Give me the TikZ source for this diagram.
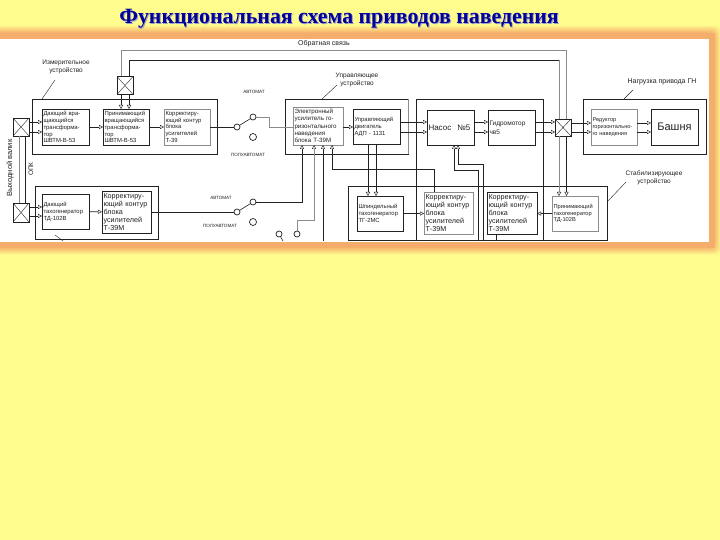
\documentclass[tikz,border=0pt]{standalone}
\usepackage{fontspec}
\setmainfont{Liberation Sans}
\newfontfamily\titlefont{Liberation Serif}
\usetikzlibrary{arrows.meta}
\definecolor{pageyellow}{HTML}{FFFC8E}
\definecolor{glow}{HTML}{F5AD6B}
\definecolor{titleblue}{HTML}{000099}
\definecolor{titleshadow}{HTML}{9C9CD0}
\definecolor{ink}{HTML}{222222}
\definecolor{softline}{HTML}{8C8C8C}
\newcommand{\fsz}[2]{\fontsize{#1}{#2}\selectfont}
\tikzset{
  x=1pt,y=-1pt,
  bx/.style 2 args={draw=ink,line width=.7pt,rectangle,inner xsep=1.5pt,inner ysep=0pt,outer sep=0pt,
    minimum width=#1pt,minimum height=#2pt,text width=#1pt-3pt,align=left,text=ink,font=\fsz{5.9}{6.9}},
  bigtxt/.style={font=\fsz{7.2}{8.2}},
  group/.style 2 args={draw=ink,line width=.7pt,rectangle,inner sep=0pt,outer sep=0pt,minimum width=#1pt,minimum height=#2pt},
  xbox/.style={draw=ink,line width=.7pt,rectangle,inner sep=0pt,outer sep=0pt,minimum width=16pt,minimum height=18pt,
    path picture={\draw[ink,line width=.4pt] (path picture bounding box.north west)--(path picture bounding box.south east)
      (path picture bounding box.north east)--(path picture bounding box.south west);}},
  contact/.style={draw=ink,line width=.7pt,circle,inner sep=0pt,outer sep=0pt,minimum size=6pt},
  lbl/.style={inner sep=0pt,outer sep=0pt,text=ink,font=\fsz{6.5}{8},align=center},
  wire/.style={ink,line width=.6pt},
  gwire/.style={softline,line width=1pt},
  arr/.style={wire,-{Triangle[open,length=4pt,width=4pt,line width=.4pt]}},
  garr/.style={gwire,-{Triangle[open,length=4pt,width=4pt,line width=.4pt,color=ink]}},
}
\begin{document}
\begin{tikzpicture}
\useasboundingbox (0,0) rectangle (720,540);
\fill[pageyellow] (0,0) rectangle (720,540);
\begin{scope}
\clip (0,0) rectangle (720,540);
\foreach \i in {0,...,7}{
  \pgfmathsetmacro{\d}{13-\i}
  \pgfmathsetmacro{\m}{(\i+1)*12.5}
  \fill[glow!\m!pageyellow,rounded corners=6pt] (-30,39-\d) rectangle (709+\d-1,241.5+\d);
}
\fill[glow] (-30,33) rectangle (715,247.5);
\fill[white] (0,39) rectangle (709,241.5);
\end{scope}
% title
\node[inner sep=0pt,text=titleshadow,font=\titlefont\bfseries\fsz{21.8}{24}] (titleb) at (340,20) {Функциональная схема приводов наведения};
\node[inner sep=0pt,text=titleblue,font=\titlefont\bfseries\fsz{21.8}{24}] (title) at (339,19) {Функциональная схема приводов наведения};

% groups
\node[group={185}{55}] (meas) at (124.5,126.5) {};
\node[group={123}{53}] (low) at (96.5,212.5) {};
\node[group={123}{55}] (ctl) at (346.5,126.5) {};
\node[group={123}{55}] (load) at (644.5,126.5) {};
\node[group={259}{54}] (stab) at (477.5,213) {};
\draw[softline,line width=.8pt] (ctl.north east) -- (ctl.south east);
\coordinate (pl) at (416,241);
\coordinate (pr) at (543,241);
\draw[wire,line width=.7pt] (pl) -- (416,99) -- (543,99) -- (pr);

% boxes
\node[bx={47}{36}] (a) at (65.5,127) {Дающий вра-\\щающийся\\трансформа-\\тор\\ШВТМ-В-53};
\node[bx={46}{36}] (b) at (126,127) {Принимающий\\вращающийся\\трансформа-\\тор\\ШВТМ-В-53};
\node[bx={46}{36},draw=softline] (c) at (187,127) {Корректиру-\\ющий контур\\блока\\усилителей\\Т-39};
\node[bx={47}{35}] (d) at (65.5,211.5) {Дающий\\тахогенератор\\ТД-102В};
\node[bx={49}{42},bigtxt] (e) at (126.5,212) {Корректиру-\\ющий контур\\блока\\усилителей\\Т-39М};
\node[bx={50}{38},draw=softline,font=\fsz{6.2}{7.3}] (f) at (318,126) {Электронный\\усилитель го-\\ризонтального\\наведения\\блока Т-39М};
\node[bx={47}{35}] (g) at (376.5,126.5) {Управляющий\\двигатель\\АДП - 1131};
\node[bx={47}{35},font=\fsz{8}{10}] (p) at (450.5,127.5) {\mbox{Насос\hspace{6pt}№5}};
\node[bx={47}{35},font=\fsz{6.5}{9}] (h) at (511.5,127.5) {Гидромотор\\чв5};
\node[bx={46}{36},draw=softline,font=\fsz{5.6}{7}] (r) at (614,127) {Редуктор\\горизонтально-\\го наведения};
\node[bx={47}{36},font=\fsz{11}{13},align=center] (t) at (674.5,127) {Башня};
\node[bx={46}{35}] (s) at (380,213.5) {Шпиндельный\\тахогенератор\\ТГ-2МС};
\node[bx={49}{42},draw=softline,bigtxt] (c1) at (448.5,213) {Корректиру-\\ющий контур\\блока\\усилителей\\Т-39М};
\node[bx={50}{42},bigtxt] (c2) at (512,213) {Корректиру-\\ющий контур\\блока\\усилителей\\Т-39М};
\node[bx={46}{35},draw=softline,font=\fsz{5.7}{6.9}] (q) at (575,213.5) {Принимающий\\тахогенератор\\ТД-102В};

% cross boxes
\node[xbox] (xt) at (125,85.5) {};
\node[xbox] (xl) at (21,127) {};
\node[xbox,minimum height=19pt] (xb) at (21,212.5) {};
\node[xbox,minimum height=17pt] (xr) at (563,127.5) {};

% contacts
\node[contact] (sw1) at (237,127) {};
\node[contact] (up1) at (253,117) {};
\node[contact,minimum width=5pt,minimum height=7pt] (dn1) at (253,137) {};
\node[contact] (sw2) at (237,212) {};
\node[contact] (up2) at (253,202) {};
\node[contact,minimum width=5pt,minimum height=7pt] (dn2) at (253,222) {};
\node[contact] (cq) at (279,234) {};
\node[contact] (cs) at (297,234) {};

% feedback
\draw[gwire] (xt.north -| 121,0) -- (121,51) -- (566.5,51) -- (xr.north -| 566.5,0);
\draw[wire] (xt.north -| 129,0) -- (129,60) -- (559,60);
\draw[softline,line width=.9pt] (559,60) -- (xr.north -| 559,0);
\draw[arr] (xt.south -| 121,0) -- (b.north -| 121,0);
\draw[arr] (xt.south -| 129,0) -- (b.north -| 129,0);

% left column
\draw[gwire,line width=.8pt] (xl.south -| 19,0) -- (xb.north -| 19,0);
\draw[wire] (xl.south -| 25,0) -- (xb.north -| 25,0);
\draw[arr] (xl.east |- 0,122) -- (a.west |- 0,122);
\draw[arr] (xl.east |- 0,132) -- (a.west |- 0,132);
\draw[arr] (xb.east |- 0,207) -- (d.west |- 0,207);
\draw[arr] (xb.east |- 0,216) -- (d.west |- 0,216);
\draw[arr] (a) -- (b);
\draw[arr] (b) -- (c);
\draw[arr] (d) -- (e);
\draw[wire] (c.east) -- (sw1);
\draw[wire] (e.east |- sw2) -- (sw2);

% switches
\draw[wire] (sw1) -- (up1);
\draw[wire] (sw2) -- (up2);
\draw[gwire,line width=.8pt] (up1) -- (269,117) -- (269,127) -- (f.west |- 0,127);
\draw[arr] (up2) -- (302,202) -- (f.south -| 302,0);
\draw[garr] (cs) -- (297,221) -- (314,221) -- (f.south -| 314,0);
\coordinate (e323) at (323,241);
\draw[arr] (e323) -- (f.south -| 323,0);
\draw[arr] (c1.north -| 434,0) -- (434,169) -- (332,169) -- (f.south -| 332,0);
\coordinate (qtail) at (283,241);
\draw[wire] (cq) -- (qtail);

% main chain
\draw[arr] (f.east |- 0,127) -- (g.west |- 0,127);
\draw[arr] (g.east |- 0,122) -- (p.west |- 0,122);
\draw[arr] (g.east |- 0,132) -- (p.west |- 0,132);
\draw[arr] (p.east |- 0,122) -- (h.west |- 0,122);
\draw[arr] (p.east |- 0,132) -- (h.west |- 0,132);
\draw[arr] (h.east |- 0,122) -- (xr.west |- 0,122);
\draw[arr] (h.east |- 0,132) -- (xr.west |- 0,132);
\draw[arr] (xr.east |- 0,123) -- (r.west |- 0,123);
\draw[arr] (xr.east |- 0,132) -- (r.west |- 0,132);
\draw[arr] (r.east |- 0,123) -- (t.west |- 0,123);
\draw[arr] (r.east |- 0,132) -- (t.west |- 0,132);

% stabilising loop
\draw[arr] (g.south -| 368,0) -- (s.north -| 368,0);
\draw[arr] (g.south -| 376,0) -- (s.north -| 376,0);
\draw[arr] (s) -- (c1.west |- s);
\draw[arr] (q) -- (c2.east |- q);
\draw[garr] (xr.south -| 559,0) -- (q.north -| 559,0);
\draw[arr] (xr.south -| 566.5,0) -- (q.north -| 566.5,0);
\coordinate (e478) at (478,241);
\coordinate (e483) at (483,241);
\draw[arr] (e478) -- (478,170) -- (454,170) -- (p.south -| 454,0);
\draw[arr] (e483) -- (483,164) -- (458,164) -- (p.south -| 458,0);
\coordinate (e496) at (496,241);
\draw[wire] (c2.south -| 496,0) -- (e496);

% leaders
\coordinate (l1a) at (55,80); \coordinate (l2a) at (337,85);
\coordinate (l3a) at (633,90); \coordinate (l4a) at (626,182);
\coordinate (l5a) at (55,235); \coordinate (l5b) at (63,241);
\draw[wire,line width=.4pt] (meas.north -| 42,0) -- (l1a);
\draw[wire,line width=.4pt] (ctl.north -| 322,0) -- (l2a);
\draw[wire,line width=.4pt] (load.north -| 624,0) -- (l3a);
\draw[wire,line width=.4pt] (stab.east |- 0,202) -- (l4a);
\draw[wire,line width=.4pt] (l5a) -- (l5b);

% labels
\node[lbl,font=\fsz{7}{8}] (t1) at (324,44) {Обратная связь};
\node[lbl] (t2) at (66,67) {Измерительное\\устройство};
\node[lbl] (t3) at (357,79.5) {Управляющее\\устройство};
\node[lbl,font=\fsz{7}{8}] (t4) at (662,82) {Нагрузка  привода ГН};
\node[lbl] (t5) at (654,177.5) {Стабилизирующее\\устройство};
\node[lbl,font=\fsz{4.6}{6}] (t6) at (254,92) {АВТОМАТ};
\node[lbl,font=\fsz{4.6}{6}] (t7) at (248,155) {ПОЛУАВТОМАТ};
\node[lbl,font=\fsz{4.6}{6}] (t8) at (221,198) {АВТОМАТ};
\node[lbl,font=\fsz{4.6}{6}] (t9) at (220,226) {ПОЛУАВТОМАТ};
\node[lbl,rotate=90,font=\fsz{7.5}{8}] (t10) at (10,168) {Выходной валик};
\node[lbl,rotate=90] (t11) at (31,169) {ОПК};
\end{tikzpicture}
\end{document}
